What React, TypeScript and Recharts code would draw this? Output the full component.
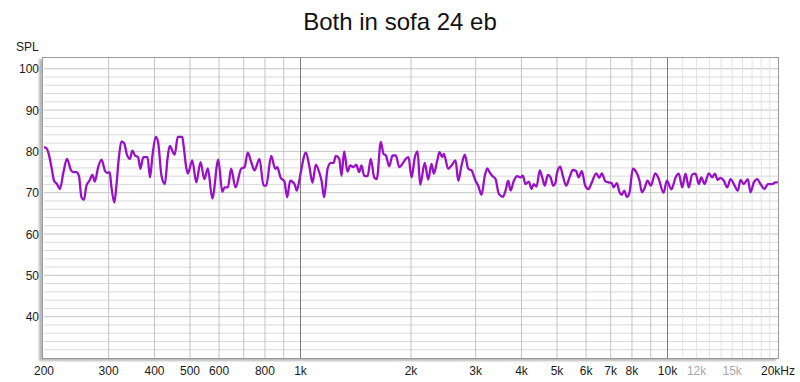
import React from 'react';
import { LineChart, Line, XAxis, YAxis, ReferenceLine } from 'recharts';

// frequency (Hz), SPL (dB)
const band200to1k: [number, number][] = [
  [200, 81.0], [203, 80.8], [206, 79.4], [210, 75.8], [213, 72.9], [217, 72.1],
  [221, 70.9], [226, 75.0], [231, 78.2], [237, 75.4], [240, 75.0], [245, 75.0],
  [249, 74.1], [253, 68.9], [257, 68.3], [261, 71.7], [266, 72.9], [271, 74.3],
  [275, 72.7], [281, 76.2], [287, 78.0], [293, 75.4], [297, 74.8], [302, 75.0],
  [305, 71.7], [311, 67.6], [315, 71.7], [320, 78.6], [325, 82.4], [331, 81.9],
  [336, 79.4], [343, 78.2], [348, 80.2], [354, 79.0], [361, 78.6], [366, 75.8],
  [373, 78.6], [383, 78.6], [389, 73.7], [395, 79.0], [403, 83.5], [409, 82.3],
  [418, 74.1], [427, 72.1], [434, 78.2], [440, 81.3], [454, 79.2], [463, 83.5],
  [476, 83.5], [480, 81.5], [488, 76.2], [493, 74.6], [507, 77.8], [520, 72.5],
  [534, 77.4], [547, 73.3], [559, 75.9], [575, 68.6], [597, 78.0], [612, 70.2],
  [621, 71.3], [634, 71.3], [647, 75.8], [665, 71.3], [689, 75.8], [704, 76.2],
  [718, 79.7], [734, 77.4], [749, 75.4], [773, 78.2], [793, 71.7], [806, 71.7],
  [832, 78.9], [853, 75.8], [864, 76.2], [882, 73.7], [904, 72.7], [920, 68.9],
  [937, 72.9], [963, 72.1], [977, 70.5], [990, 72.5],
];

const band1kto5k: [number, number][] = [
  [1002, 75.0], [1034, 79.7], [1056, 76.6], [1078, 72.4], [1101, 76.8], [1124, 75.0],
  [1141, 72.9], [1160, 68.9], [1185, 75.8], [1209, 77.2], [1230, 77.2], [1248, 78.9],
  [1275, 78.2], [1293, 74.1], [1315, 80.0], [1343, 75.1], [1366, 76.6], [1394, 76.2],
  [1418, 76.8], [1445, 75.0], [1466, 76.6], [1491, 74.1], [1523, 74.0], [1554, 78.2],
  [1588, 73.7], [1614, 73.3], [1655, 82.3], [1683, 79.4], [1708, 79.0], [1745, 76.4],
  [1781, 79.0], [1818, 79.0], [1858, 76.2], [1908, 77.4], [1936, 78.2], [1969, 78.6],
  [2007, 73.7], [2049, 78.6], [2084, 80.0], [2119, 71.9], [2180, 77.2], [2228, 73.2],
  [2275, 77.0], [2308, 74.6], [2358, 77.8], [2392, 79.8], [2433, 78.6], [2457, 79.4],
  [2526, 75.8], [2579, 76.6], [2645, 77.8], [2690, 72.9], [2746, 76.6], [2803, 79.2],
  [2864, 75.8], [2924, 75.4], [2998, 72.9], [3049, 71.7], [3113, 69.5], [3178, 74.1],
  [3227, 75.9], [3273, 75.0], [3329, 74.1], [3399, 73.3], [3470, 69.7], [3559, 69.0],
  [3619, 70.5], [3681, 72.9], [3735, 70.5], [3813, 72.9], [3895, 74.0], [3977, 73.7],
  [4034, 74.1], [4103, 72.1], [4189, 72.7], [4261, 70.9], [4322, 72.1], [4396, 71.5],
  [4488, 75.4], [4556, 73.7], [4631, 71.7], [4719, 74.3], [4800, 73.7], [4882, 71.7],
  [4953, 72.5],
];

const band5kto20k: [number, number][] = [
  [4993, 74.6], [5101, 76.3], [5185, 74.1], [5296, 71.7], [5407, 73.7], [5520, 75.5],
  [5640, 75.2], [5721, 73.7], [5841, 75.2], [5967, 71.7], [6092, 70.9], [6219, 72.5],
  [6393, 74.7], [6515, 73.6], [6622, 74.7], [6765, 72.8], [6906, 72.5], [7051, 72.3],
  [7127, 71.3], [7276, 72.3], [7400, 70.1], [7508, 69.5], [7621, 70.5], [7747, 69.0],
  [7880, 70.1], [8044, 75.8], [8218, 75.0], [8390, 72.9], [8512, 70.1], [8642, 70.9],
  [8822, 72.9], [9007, 71.7], [9259, 74.7], [9450, 73.5], [9754, 70.0], [9958, 72.9],
  [10250, 70.8], [10517, 73.7], [10734, 74.6], [10965, 71.3], [11195, 74.6], [11429, 71.3],
  [11676, 74.4], [11920, 74.6], [12170, 72.1], [12355, 73.7], [12613, 72.1], [12958, 74.7],
  [13237, 73.7], [13455, 74.6], [13710, 73.1], [13945, 73.6], [14237, 72.9], [14544, 71.3],
  [14848, 73.3], [15159, 72.1], [15544, 70.5], [15809, 73.1], [16140, 72.1], [16550, 73.3],
  [16832, 70.1], [17185, 72.5], [17556, 73.3], [17923, 72.1], [18378, 70.9], [18763, 72.1],
  [19288, 72.1], [19692, 72.5], [19978, 72.5],
];

const xTicks = [200, 300, 400, 500, 600, 800, 1000, 2000, 3000, 4000, 5000, 6000, 7000, 8000, 10000, 12000, 15000, 20000];
const greyTicks = [12000, 15000];
const yTicks = [40, 50, 60, 70, 80, 90, 100];

const vGrid = [300, 400, 500, 600, 700, 800, 900, 2000, 3000, 4000, 5000, 6000, 7000, 8000, 9000];
const vGridDark = [1000, 10000];
const vGridLight = [11000, 12000, 13000, 14000, 15000, 16000, 17000, 18000, 19000];
const hGrid = [32, 34, 36, 38, 40, 42, 44, 46, 48, 50, 52, 54, 56, 58, 60, 62, 64, 66, 68, 70, 72, 74, 76, 78, 80, 82, 84, 86, 88, 90, 92, 94, 96, 98, 100];

const data = [...band200to1k, ...band1kto5k, ...band5kto20k].map(([f, spl]) => ({ f, spl }));

const font = '"Liberation Sans", Arial, sans-serif';

const freqLabel = (f: number) => {
  if (f < 1000) return String(f);
  if (f === 20000) return '20kHz';
  return f / 1000 + 'k';
};

const XTick = (props: any) => {
  const { x, y, payload } = props;
  const grey = greyTicks.includes(payload.value);
  return (
    <text x={x} y={y} dy={17} textAnchor="middle" fontSize={12} fontFamily={font} fill={grey ? '#a8a8a8' : '#1a1a1a'}>
      {freqLabel(payload.value)}
    </text>
  );
};

const YTick = (props: any) => {
  const { y, payload } = props;
  return (
    <text x={39} y={y} dy={4.5} textAnchor="end" fontSize={12} fontFamily={font} fill="#1a1a1a">
      {payload.value}
    </text>
  );
};

export default function App() {
  return (
    <div style={{ position: 'absolute', left: 0, top: 0, width: 800, height: 382, background: '#fff' }}>
      <div style={{ position: 'absolute', left: 0, top: 8, width: 800, textAlign: 'center', fontFamily: font, fontSize: 24, color: '#111' }}>
        Both in sofa 24 eb
      </div>
      <div style={{ position: 'absolute', left: 16, top: 40, fontFamily: font, fontSize: 12, color: '#1a1a1a' }}>SPL</div>
      <LineChart width={800} height={382} data={data} margin={{ top: 58, right: 22, bottom: 0, left: 0 }}>
        <XAxis
          dataKey="f"
          type="number"
          scale="log"
          domain={[200, 20000]}
          ticks={xTicks}
          interval={0}
          allowDataOverflow
          axisLine={false}
          tickLine={false}
          tickSize={0}
          tickMargin={0}
          height={24}
          tick={<XTick />}
        />
        <YAxis
          type="number"
          domain={[30, 102.6]}
          ticks={yTicks}
          interval={0}
          allowDataOverflow
          axisLine={false}
          tickLine={false}
          width={44}
          tick={<YTick />}
        />
        {hGrid.map((v) => (
          <ReferenceLine key={'h' + v} y={v} stroke={v % 10 === 0 ? '#c4c4c4' : '#dadada'} strokeWidth={1} />
        ))}
        {vGridLight.map((f) => (
          <ReferenceLine key={'vl' + f} x={f} stroke="#e2e2e2" strokeWidth={1} />
        ))}
        {vGrid.map((f) => (
          <ReferenceLine key={'v' + f} x={f} stroke="#c4c4c4" strokeWidth={1} />
        ))}
        {vGridDark.map((f) => (
          <ReferenceLine key={'vd' + f} x={f} stroke="#7a7a7a" strokeWidth={1} />
        ))}
        <Line type="monotone" dataKey="spl" stroke="#9a10c6" strokeWidth={2.3} dot={false} isAnimationActive={false} />
      </LineChart>
      <div
        style={{
          position: 'absolute',
          left: 42,
          top: 57,
          width: 735,
          height: 300,
          border: '1px solid #9a9a9a',
          boxShadow: '-3px 2px 2px rgba(0,0,0,0.28)',
          pointerEvents: 'none',
        }}
      />
    </div>
  );
}
